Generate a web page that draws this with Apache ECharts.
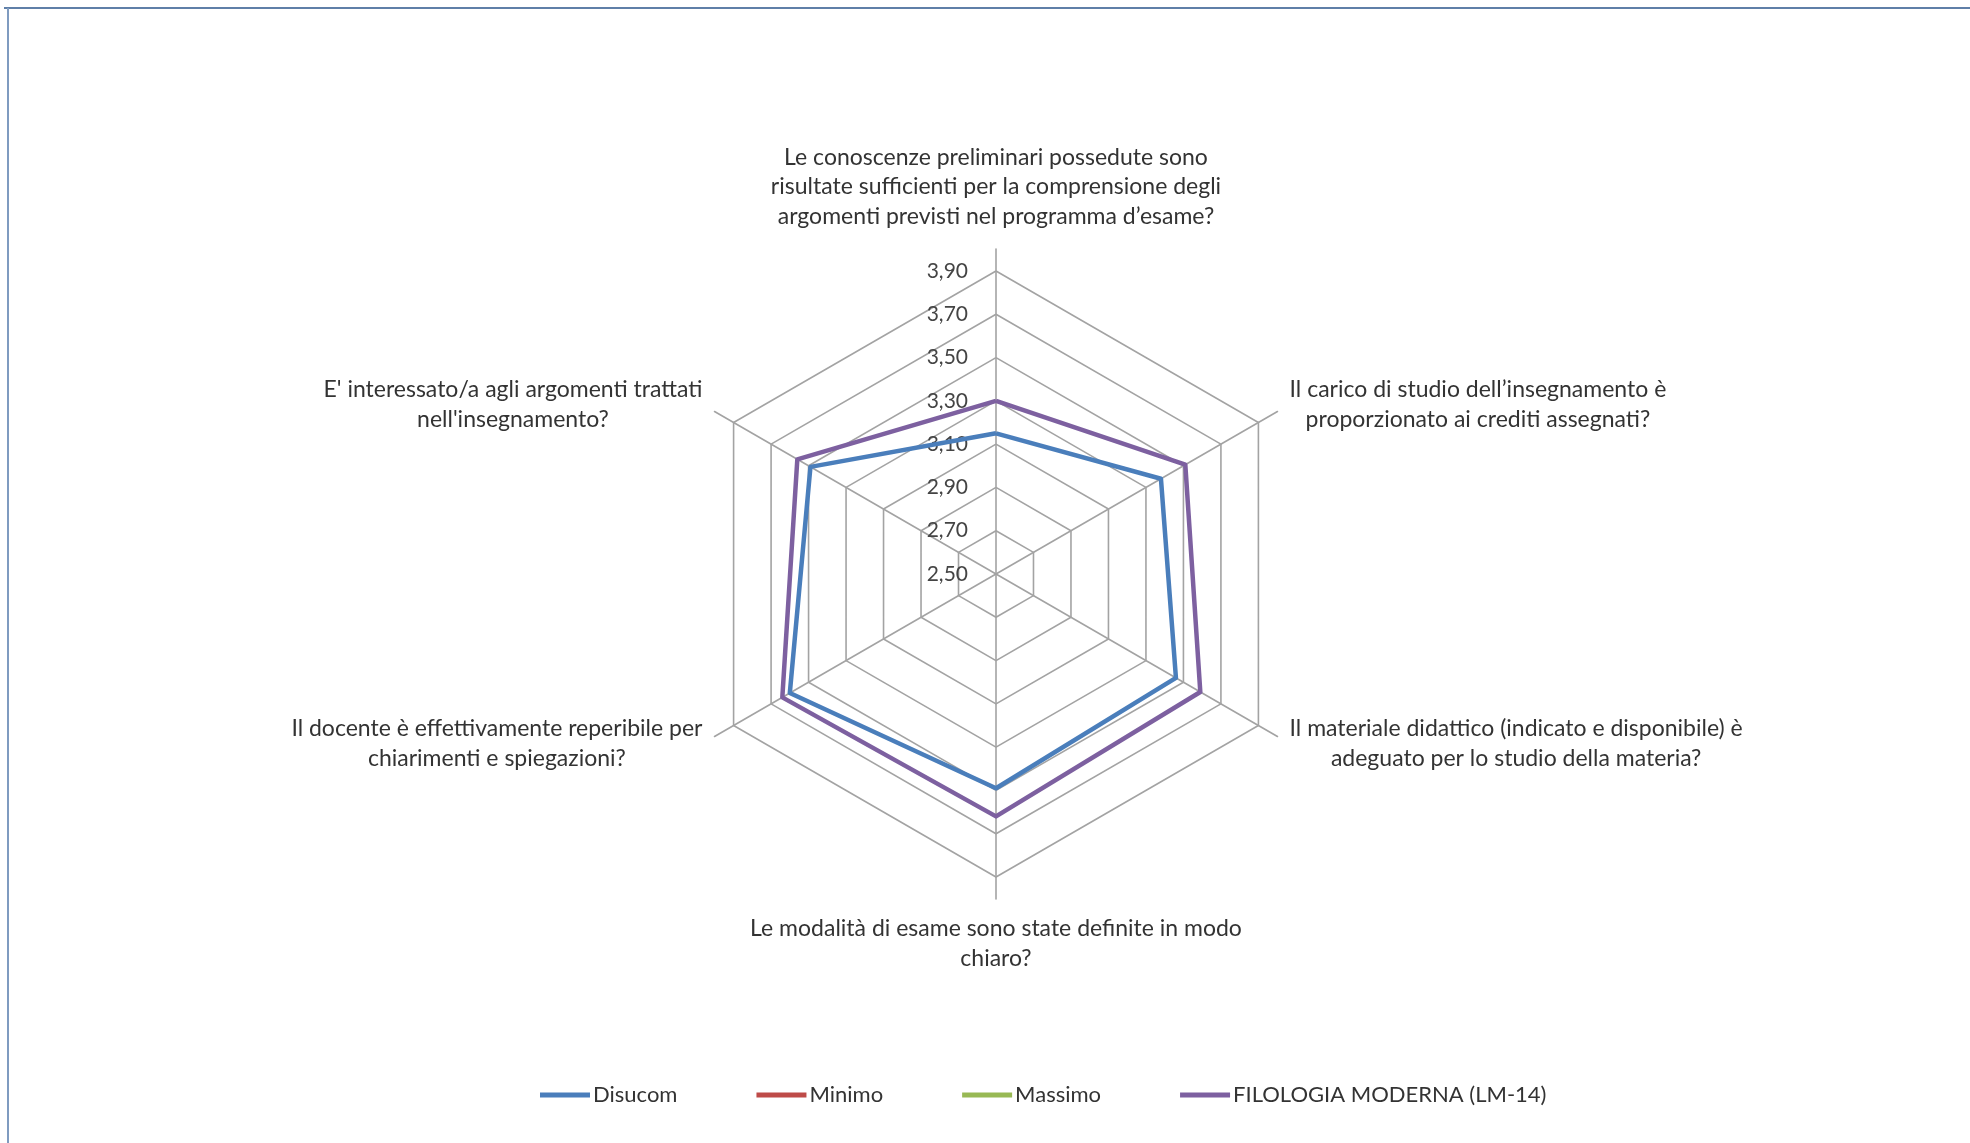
<!DOCTYPE html>
<html>
<head>
<meta charset="utf-8">
<title>Radar</title>
<script src="https://cdn.jsdelivr.net/npm/echarts@6/dist/echarts.min.js"></script>
<style>
  html, body { margin: 0; padding: 0; background: #fff; }
  #chart { width: 1970px; height: 1143px; }
</style>
</head>
<body>
<div id="chart"></div>
<script>
// questions in the order Excel draws them (clockwise from the top)
const questions = [
  'Le conoscenze preliminari possedute sono\nrisultate sufficienti per la comprensione degli\nargomenti previsti nel programma d\u2019esame?',
  'Il carico di studio dell\u2019insegnamento è\nproporzionato ai crediti assegnati?',
  'Il materiale didattico (indicato e disponibile) è\nadeguato per lo studio della materia?',
  'Le modalità di esame sono state definite in modo\nchiaro?',
  'Il docente è effettivamente reperibile per\nchiarimenti e spiegazioni?',
  'E\' interessato/a agli argomenti trattati\nnell\'insegnamento?',
]
const seriesNames = ['Disucom', 'Minimo', 'Massimo', 'FILOLOGIA MODERNA (LM-14)']
const disucom = [3.15, 3.38, 3.46, 3.49, 3.60, 3.49]
const minimo = []
const massimo = []
const filologia = [3.30, 3.51, 3.59, 3.62, 3.64, 3.56]
const axisMin = 2.5
const axisMax = 3.9

const colors = ['#4a7ebb', '#be4b48', '#98b954', '#7d60a0']
const font = 'Lato, "Open Sans", sans-serif'
const center = [996, 574]

// echarts places indicators counter-clockwise, excel clockwise
const order = [0, 5, 4, 3, 2, 1]
const toEc = (arr) => order.map((i) => arr[i])

const gaps = [18, 14, 14, 15, 14, 14]

const chart = echarts.init(document.getElementById('chart'))
chart.setOption({
  backgroundColor: '#fff',
  animation: false,
  color: colors,
  graphic: [
    { type: 'line', shape: { x1: 4, y1: 8, x2: 1970, y2: 8 }, style: { stroke: '#5f7fa8', lineWidth: 2 } },
    { type: 'line', shape: { x1: 8, y1: 8, x2: 8, y2: 1143 }, style: { stroke: '#7f9bc0', lineWidth: 2 } },
  ],
  legend: {
    left: 540,
    top: 1084,
    padding: 0,
    icon: 'rect',
    itemWidth: 50,
    itemHeight: 5,
    itemGap: 79,
    textStyle: { fontFamily: font, fontSize: 22, color: '#333', padding: [0, 0, 0, -2] },
    data: seriesNames,
  },
  radar: [
    {
      // spokes only, a bit longer than the outer ring
      center: center,
      radius: 325,
      shape: 'polygon',
      indicator: toEc(questions).map((q, i) => ({
        name: q, min: axisMin, max: 4.0, nameGap: toEc(gaps)[i],
      })),
      axisName: {
        fontFamily: font,
        fontSize: 23,
        color: '#333',
        formatter: (name) => name.split('\n').map((l) => `{c|${l}}`).join('\n'),
        rich: { c: { align: 'center', fontFamily: font, fontSize: 23, color: '#333', lineHeight: 29.5 } },
      },
      axisLine: { lineStyle: { color: '#a3a3a3', width: 1.6 } },
      splitLine: { show: false },
      splitArea: { show: false },
      axisTick: { show: false },
      axisLabel: { show: false },
    },
    {
      center: center,
      radius: 303,
      shape: 'polygon',
      splitNumber: 7,
      indicator: toEc(questions).map((q, i) => ({
        name: '', min: axisMin, max: axisMax,
        axisLabel: { show: i === 0 },
      })),
      axisName: { show: false },
      axisLine: { show: false },
      splitLine: { lineStyle: { color: '#a3a3a3', width: 1.6 } },
      splitArea: { show: false },
      axisTick: { show: false },
      axisLabel: {
        margin: 28,
        fontFamily: font,
        fontSize: 21,
        color: '#444',
        formatter: (v) => v.toFixed(2).replace('.', ','),
      },
    },
  ],
  series: [
    {
      name: seriesNames[0], type: 'radar', radarIndex: 1, symbol: 'none',
      lineStyle: { width: 4.5, color: colors[0] },
      data: [{ value: toEc(disucom), name: seriesNames[0] }],
    },
    {
      name: seriesNames[1], type: 'radar', radarIndex: 1, symbol: 'none',
      lineStyle: { width: 4.5, color: colors[1] },
      data: minimo.length ? [{ value: toEc(minimo), name: seriesNames[1] }] : [],
    },
    {
      name: seriesNames[2], type: 'radar', radarIndex: 1, symbol: 'none',
      lineStyle: { width: 4.5, color: colors[2] },
      data: massimo.length ? [{ value: toEc(massimo), name: seriesNames[2] }] : [],
    },
    {
      name: seriesNames[3], type: 'radar', radarIndex: 1, symbol: 'none',
      lineStyle: { width: 4.5, color: colors[3] },
      data: [{ value: toEc(filologia), name: seriesNames[3] }],
    },
  ],
})
</script>
</body>
</html>
